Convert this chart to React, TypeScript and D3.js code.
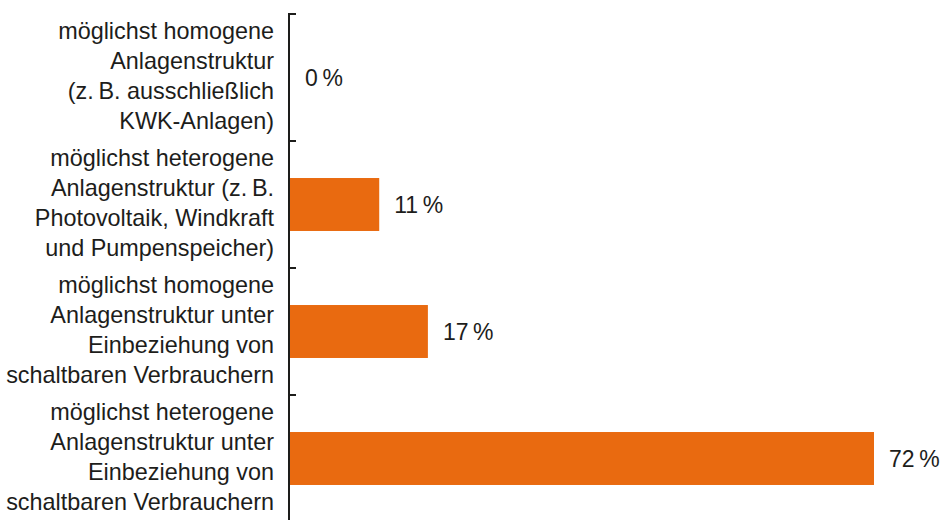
import React from "react";
import * as d3 from "d3";

const categories = ["cat1", "cat2", "cat3", "cat4"];
const categoryLines = [
  ["möglichst homogene", "Anlagenstruktur", "(z.\u2009B. ausschließlich", "KWK-Anlagen)"],
  ["möglichst heterogene", "Anlagenstruktur (z.\u2009B.", "Photovoltaik, Windkraft", "und Pumpenspeicher)"],
  ["möglichst homogene", "Anlagenstruktur unter", "Einbeziehung von", "schaltbaren Verbrauchern"],
  ["möglichst heterogene", "Anlagenstruktur unter", "Einbeziehung von", "schaltbaren Verbrauchern"],
];
const values = [0, 11, 17, 72];

const W = 941;
const H = 520;
const FONT = "'Liberation Sans', Arial, Helvetica, sans-serif";
const TEXT = "#1d1d1b";
const BAR = "#E96A10";

export default function App() {
  const y = d3
    .scaleBand<string>()
    .domain(categories)
    .range([14, 522])
    .paddingInner(0.583)
    .paddingOuter(0.2915);
  const x = d3.scaleLinear().domain([0, 72]).range([290, 874]);
  const step = y.step();
  const r0 = y.range()[0];
  const axisX = 289;
  const lineH = 30;

  return (
    <svg
      width={W}
      height={H}
      style={{ position: "absolute", left: 0, top: 0, background: "#fff" }}
      fontFamily={FONT}
    >
      {categories.map((c, i) => {
        const cy = (y(c) as number) + y.bandwidth() / 2;
        const lines = categoryLines[i];
        const start = cy - ((lines.length - 1) * lineH) / 2;
        return (
          <g key={c}>
            <rect
              x={x(0)}
              y={y(c)}
              width={Math.max(0, x(values[i]) - x(0))}
              height={y.bandwidth()}
              fill={BAR}
            />
            <text
              x={x(values[i]) + 15}
              y={cy}
              dy="0.35em"
              fontSize={23}
              fill={TEXT}
            >
              {`${values[i]}\u202F%`}
            </text>
            <text textAnchor="end" fontSize={23.4} fill={TEXT}>
              {lines.map((l, j) => (
                <tspan key={j} x={274} y={start + j * lineH} dy="0.29em">
                  {l}
                </tspan>
              ))}
            </text>
          </g>
        );
      })}
      <line x1={axisX} x2={axisX} y1={r0} y2={H + 5} stroke={TEXT} strokeWidth={2} />
      {d3.range(categories.length + 1).map((i) => (
        <line
          key={i}
          x1={axisX - 1}
          x2={axisX + 7}
          y1={r0 + i * step}
          y2={r0 + i * step}
          stroke={TEXT}
          strokeWidth={2}
        />
      ))}
    </svg>
  );
}
